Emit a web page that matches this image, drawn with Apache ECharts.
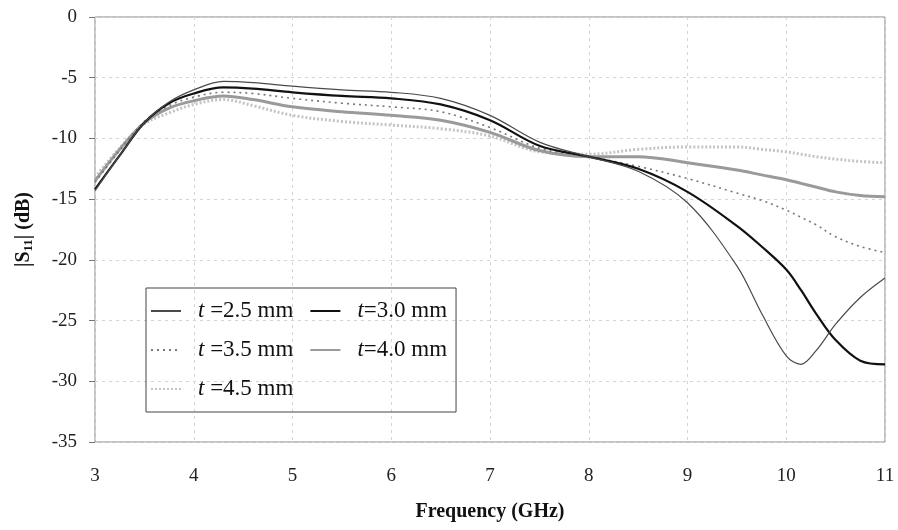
<!DOCTYPE html>
<html>
	<head>
		<meta charset="utf-8">
		<title>S11 vs frequency</title>
		<script src="https://cdn.jsdelivr.net/npm/echarts@6/dist/echarts.min.js"></script>
		<style>
			html, body {
				width: 100%;
				height: 100%;
				margin: 0;
				padding: 0;
				background: #fff;
			}
			#main {
				width: 898px;
				height: 530px;
			}
		</style>
	</head>
	<body>
		<div id="main"></div>
		<script>
			// frequency points (GHz)
			var freq = [3, 3.25, 3.5, 3.75, 4, 4.3, 4.6, 5, 5.5, 6, 6.5, 7, 7.5, 8, 8.5, 9, 9.5, 9.75, 10, 10.15, 10.3, 10.5, 10.75, 11];
			var names = ['t =2.5 mm', 't=3.0 mm', 't =3.5 mm', 't=4.0 mm', 't =4.5 mm'];
			var s25 = [-14.3, -11.4, -8.7, -7.0, -6.0, -5.3, -5.4, -5.7, -6.0, -6.2, -6.7, -8.1, -10.3, -11.5, -12.7, -15.3, -20.5, -24.4, -27.9, -28.6, -27.5, -25.3, -23.1, -21.5];
			var s30 = [-14.2, -11.4, -8.7, -7.1, -6.3, -5.8, -5.9, -6.2, -6.5, -6.7, -7.2, -8.5, -10.6, -11.5, -12.5, -14.4, -17.2, -18.9, -20.8, -22.5, -24.4, -26.6, -28.3, -28.6];
			var s35 = [-13.6, -11.0, -8.6, -7.3, -6.6, -6.2, -6.3, -6.7, -7.1, -7.4, -7.8, -9.1, -10.8, -11.5, -12.3, -13.3, -14.5, -15.1, -15.9, -16.5, -17.1, -18.1, -18.9, -19.4];
			var s40 = [-13.5, -10.9, -8.7, -7.5, -6.9, -6.5, -6.8, -7.4, -7.8, -8.1, -8.5, -9.5, -11.0, -11.5, -11.5, -12.0, -12.6, -13.0, -13.4, -13.7, -14.0, -14.4, -14.7, -14.8];
			var s45 = [-13.2, -10.8, -8.8, -7.9, -7.2, -6.8, -7.3, -8.1, -8.6, -8.9, -9.2, -9.8, -11.1, -11.3, -10.9, -10.7, -10.7, -10.9, -11.1, -11.3, -11.5, -11.7, -11.9, -12.0];
			var xTicks = [3, 4, 5, 6, 7, 8, 9, 10, 11];
			var yTicks = [0, -5, -10, -15, -20, -25, -30, -35];

			var styles = [
				{color: '#4a4a4a', width: 1.2, type: 'solid'},
				{color: '#111', width: 2.2, type: 'solid'},
				{color: '#777', width: 1.6, type: [2, 4]},
				{color: '#9a9a9a', width: 3, type: 'solid'},
				{color: '#c4c4c4', width: 3, type: [2, 2]}
			];
			var values = [s25, s30, s35, s40, s45];

			function pairs(arr) {
				return freq.map(function(f, i) { return [f, arr[i]]; });
			}

			var series = names.map(function(n, k) {
				return {
					name: n,
					type: 'line',
					data: pairs(values[k]),
					smooth: 0.35,
					symbol: 'none',
					lineStyle: styles[k],
					itemStyle: {color: styles[k].color},
					z: 10 - k
				};
			});

			var font = '"Liberation Serif", "Times New Roman", serif';
			var chart = echarts.init(document.getElementById('main'), null, {renderer: 'canvas'});
			chart.setOption({
				animation: false,
				grid: {left: 95, right: 13, top: 17, bottom: 88, show: true, borderColor: '#888', borderWidth: 1},
				legend: {
					left: 146,
					top: 288,
					width: 312,
					padding: [10, 6, 10, 4],
					itemGap: 13,
					itemWidth: 30,
					itemHeight: 14,
					borderColor: '#444',
					borderWidth: 1,
					itemStyle: {opacity: 0},
					data: names,
					formatter: function(name) {
						return '{i|t}{r|' + name.slice(1) + '}';
					},
					textStyle: {
						fontFamily: font,
						fontSize: 23,
						color: '#111',
						lineHeight: 26,
						rich: {
							i: {fontFamily: font, fontSize: 23, fontStyle: 'italic', color: '#111', lineHeight: 26, padding: [0, 0, 0, 12]},
							r: {fontFamily: font, fontSize: 23, color: '#111', lineHeight: 26, padding: [0, 3, 0, 0]}
						}
					}
				},
				xAxis: {
					type: 'value',
					min: 3,
					max: 11,
					interval: 1,
					name: 'Frequency (GHz)',
					nameLocation: 'middle',
					nameGap: 60,
					nameTextStyle: {fontFamily: font, fontSize: 20, fontWeight: 'bold', color: '#111'},
					axisLine: {show: false},
					axisTick: {show: false},
					axisLabel: {
						margin: 25,
						fontFamily: font,
						fontSize: 19,
						color: '#222',
						formatter: function(v) { return xTicks.indexOf(v) >= 0 ? v : ''; }
					},
					splitLine: {show: true, lineStyle: {color: '#d4d4d4', type: [3, 4], width: 1}}
				},
				yAxis: {
					type: 'value',
					min: -35,
					max: 0,
					interval: 5,
					name: '{a||S}{s|11}{a|| (dB)}',
					nameLocation: 'middle',
					nameGap: 60,
					nameRotate: 90,
					nameTextStyle: {
						fontFamily: font,
						fontSize: 20,
						fontWeight: 'bold',
						color: '#111',
						rich: {
							a: {fontFamily: font, fontSize: 20, fontWeight: 'bold', color: '#111'},
							s: {fontFamily: font, fontSize: 13, fontWeight: 'bold', color: '#111', verticalAlign: 'bottom', padding: [9, 0, 0, 0]}
						}
					},
					axisLine: {show: false},
					axisTick: {show: true, inside: false, length: 6, lineStyle: {color: '#777'}},
					axisLabel: {
						margin: 18,
						fontFamily: font,
						fontSize: 19,
						color: '#222',
						formatter: function(v) { return yTicks.indexOf(v) >= 0 ? v : ''; }
					},
					splitLine: {show: true, lineStyle: {color: '#d4d4d4', type: [3, 4], width: 1}}
				},
				series: series
			});
		</script>
	</body>
</html>
